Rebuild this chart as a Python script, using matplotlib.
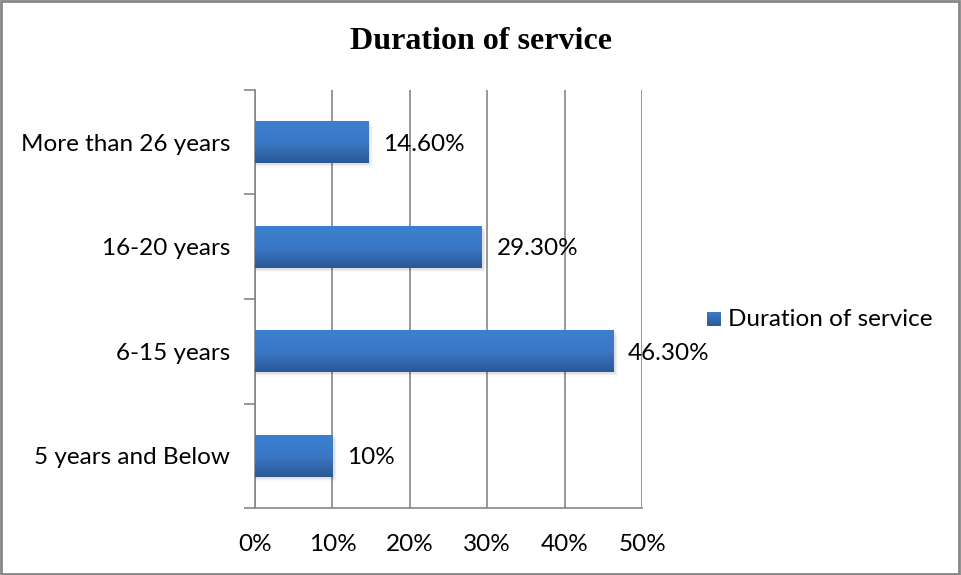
import matplotlib.pyplot as plt
import numpy as np
from matplotlib.colors import LinearSegmentedColormap
from matplotlib.patches import Rectangle

categories = ["5 years and Below", "6-15 years", "16-20 years", "More than 26 years"]
values = [10.0, 46.3, 29.3, 14.6]
value_labels = ["10%", "46.30%", "29.30%", "14.60%"]
x_ticks = [0, 10, 20, 30, 40, 50]
x_tick_labels = ["0%", "10%", "20%", "30%", "40%", "50%"]

label_font = "Lato"
fs = 17.5
bar_cmap = LinearSegmentedColormap.from_list("bar", ["#2b5895", "#3a78c6", "#3d7fcf"])

fig = plt.figure(figsize=(9.61, 5.75), dpi=100)
ax = fig.add_axes([0.2654, 0.1165, 0.4027, 0.727])

y = np.arange(len(categories))
bar_h = 0.4

grad = np.linspace(0, 1, 64).reshape(-1, 1)
for yi, v, lab in zip(y, values, value_labels):
    # soft drop shadow under each bar
    for k, a in enumerate([0.06, 0.04, 0.02]):
        ax.add_patch(Rectangle((0, yi - bar_h / 2 - 0.02 - 0.012 * k), v + 0.3 + 0.15 * k,
                               bar_h, color="black", alpha=a, lw=0, zorder=2))
    ax.imshow(grad, cmap=bar_cmap, aspect="auto", origin="lower",
              extent=(0, v, yi - bar_h / 2, yi + bar_h / 2), zorder=3)
    ax.text(v + 1.9, yi - 0.02, lab, va="center", ha="left",
            fontsize=fs, family=label_font, color="black", zorder=4)

ax.set_xlim(0, 50)
ax.set_ylim(-0.5, len(categories) - 0.5)

ax.set_xticks(x_ticks)
ax.set_xticklabels(x_tick_labels, family=label_font, fontsize=fs)
ax.set_yticks(y)
ax.set_yticklabels(categories, family=label_font, fontsize=fs)
ax.tick_params(axis="y", length=0, pad=18)
ax.tick_params(axis="x", length=0, pad=19)

# category boundary ticks on the value axis
ax.set_yticks(np.arange(-0.5, len(categories)), minor=True)
ax.tick_params(axis="y", which="minor", length=8, color="#868686", width=1.2)
ax.set_xticks(x_ticks, minor=True)
ax.tick_params(axis="x", which="minor", length=8, color="#868686", width=1.2, direction="out")

ax.grid(axis="x", color="#868686", lw=1.2, zorder=1)
ax.set_axisbelow(True)
for side in ["top", "right"]:
    ax.spines[side].set_visible(False)
for side in ["left", "bottom"]:
    ax.spines[side].set_color("#868686")
    ax.spines[side].set_linewidth(1.2)

fig.text(0.5, 0.927, "Duration of service", ha="center", va="center",
         family="Liberation Serif", fontweight="bold", fontsize=23)

# legend
leg_grad = LinearSegmentedColormap.from_list("leg", ["#2b5895", "#3d7fcf"])
leg_ax = fig.add_axes([707 / 961, 1 - 326 / 575, 14 / 961, 14 / 575])
leg_ax.imshow(grad, cmap=leg_grad, aspect="auto", origin="lower")
leg_ax.axis("off")
fig.text(728 / 961, 1 - 319 / 575, "Duration of service", va="center", ha="left",
         family=label_font, fontsize=fs)

# outer frame
fig.patches.append(Rectangle((0.001, 0.002), 0.997, 0.996, transform=fig.transFigure,
                             fill=False, edgecolor="#868686", lw=2))

fig.savefig("out.png", dpi=100)
